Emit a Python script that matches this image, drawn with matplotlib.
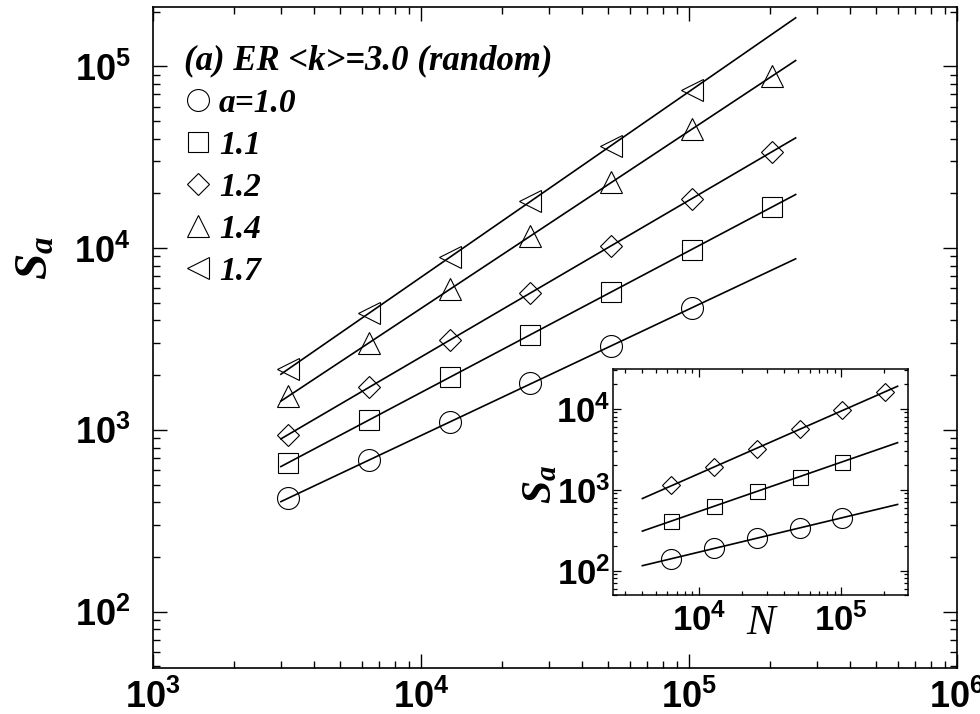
import numpy as np
import matplotlib
matplotlib.use("Agg")
import matplotlib.pyplot as plt
from matplotlib.ticker import LogLocator, NullFormatter, FuncFormatter

plt.rcParams['mathtext.fontset'] = 'custom'
plt.rcParams['mathtext.rm'] = 'Liberation Sans:bold'
plt.rcParams['mathtext.it'] = 'Liberation Sans:bold'
plt.rcParams['mathtext.bf'] = 'Liberation Serif:italic:bold'
plt.rcParams['mathtext.default'] = 'rm'

# ---------------- data ----------------
N = [3200, 6400, 12800, 25600, 51200, 102400, 204800]
s_a10 = [420, 682, 1105, 1811, 2894, 4667]
s_a11 = [659, 1133, 1961, 3327, 5757, 9770, 16910]
s_a12 = [937, 1721, 3123, 5685, 10315, 18640, 33950]
s_a14 = [1540, 2999, 5944, 11590, 22970, 44980, 88820]
s_a17 = [2162, 4379, 8882, 18180, 36580, 74190]
labels = ['a=1.0', '1.1', '1.2', '1.4', '1.7']
legend_title = '(a) ER <k>=3.0 (random)'
fit_range = [3000, 250000]

N_in = [6400, 12800, 25600, 51200, 102400, 204800]
in_a10 = [139, 189, 255, 336, 449]
in_a11 = [408, 630, 953, 1442, 2221]
in_a12 = [1130, 1903, 3226, 5546, 9610, 16290]
fit_range_in = [4000, 250000]

W, H = 980, 714
fig = plt.figure(figsize=(W / 100, H / 100), dpi=100)

def frac(x0, y0, x1, y1):
    return [x0 / W, 1 - y1 / H, (x1 - x0) / W, (y1 - y0) / H]

pow_fmt = FuncFormatter(lambda v, pos: r'$\mathrm{10^{%d}}$' % int(round(np.log10(v))))

def style_log_axis(a, major_len, minor_len, lw, lsize):
    for axis in (a.xaxis, a.yaxis):
        axis.set_major_locator(LogLocator(base=10, numticks=10))
        axis.set_minor_locator(LogLocator(base=10, subs=np.arange(2, 10), numticks=20))
        axis.set_minor_formatter(NullFormatter())
        axis.set_major_formatter(pow_fmt)
    a.tick_params(which='both', direction='in', top=True, right=True, width=lw,
                  labelsize=lsize)
    a.tick_params(which='major', length=major_len)
    a.tick_params(which='minor', length=minor_len)
    for s in a.spines.values():
        s.set_linewidth(lw + 0.2)

ax = fig.add_axes(frac(153, 7, 957, 668))
ax.set_xscale('log')
ax.set_yscale('log')
ax.set_xlim(1e3, 1e6)
ax.set_ylim(49, 2.12e5)

series = [s_a10, s_a11, s_a12, s_a14, s_a17]
markers = ['o', 's', 'D', '^', '<']
msizes = [15.8, 13.9, 11.2, 15.8, 15.8]
handles = []
xf = np.array(fit_range, dtype=float)
for ys, m, ms, lab in zip(series, markers, msizes, labels):
    xs = np.array(N[:len(ys)], dtype=float)
    ys = np.array(ys, dtype=float)
    p = np.polyfit(np.log10(xs), np.log10(ys), 1)
    ax.plot(xf, 10 ** np.polyval(p, np.log10(xf)), color='black', lw=1.2, zorder=2)
    h, = ax.plot(xs, ys, linestyle='none', marker=m, ms=ms, mfc='none',
                 mec='black', mew=0.8, zorder=3, label=lab)
    handles.append(h)

leg = ax.legend(handles=handles, loc='upper left',
                bbox_to_anchor=(184 / W, 1 - 44 / H), bbox_transform=fig.transFigure,
                frameon=False, title=legend_title,
                prop=dict(family='Liberation Serif', weight='bold', style='italic', size=24),
                handlelength=0.85, handletextpad=0.2, labelspacing=0.33,
                borderaxespad=0.0, borderpad=0.0, markerscale=1.0)
leg.get_title().set_fontproperties(dict(family='Liberation Serif', weight='bold',
                                        style='italic', size=25))
leg._legend_box.align = 'left'

style_log_axis(ax, 10, 5, 1.0, 26)
ax.tick_params(axis='x', pad=8)
ax.tick_params(axis='y', pad=16)

ax.text(-0.147, 0.62, r'$\mathbf{S_a}$', transform=ax.transAxes, rotation=90,
        ha='center', va='center', fontsize=34)

# ---------------- inset ----------------
axi = fig.add_axes(frac(613, 369, 908, 595))
axi.set_xscale('log')
axi.set_yscale('log')
axi.set_xlim(2485, 2.96e5)
axi.set_ylim(50, 3.1e4)

in_series = [in_a10, in_a11, in_a12]
in_markers = ['o', 's', 'D']
in_ms = [14.4, 10.8, 9.4]
xfi = np.array(fit_range_in, dtype=float)
for ys, m, ms in zip(in_series, in_markers, in_ms):
    xs = np.array(N_in[:len(ys)], dtype=float)
    ys = np.array(ys, dtype=float)
    p = np.polyfit(np.log10(xs), np.log10(ys), 1)
    axi.plot(xfi, 10 ** np.polyval(p, np.log10(xfi)), color='black', lw=1.2, zorder=2)
    axi.plot(xs, ys, linestyle='none', marker=m, ms=ms, mfc='none',
             mec='black', mew=0.8, zorder=3)

style_log_axis(axi, 6, 3, 0.9, 25)
axi.tick_params(axis='x', pad=6)
axi.tick_params(axis='y', pad=2)
axi.text(-0.25, 0.49, r'$\mathbf{S_a}$', transform=axi.transAxes, rotation=90,
         ha='center', va='center', fontsize=30)
axi.text(0.5, -0.125, 'N', transform=axi.transAxes, ha='center', va='center',
         family='Liberation Serif', style='italic', fontsize=31)

fig.savefig('out.png', dpi=100)
